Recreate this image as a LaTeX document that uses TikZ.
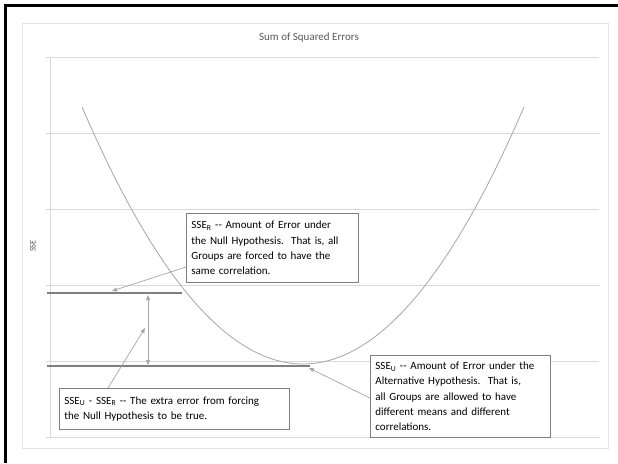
\documentclass[tikz,border=0pt]{standalone}
\usepackage{fontspec}
\setmainfont{Carlito}
\usetikzlibrary{arrows.meta,shadows}
\definecolor{gridc}{HTML}{D9D9D9}
\definecolor{curvec}{HTML}{A6A6A6}
\definecolor{linec}{HTML}{7F7F7F}
\definecolor{arrc}{HTML}{A6A6A6}
\definecolor{titlec}{HTML}{595959}
\tikzset{
  gridline/.style={draw=gridc, line width=0.9pt},
  sseline/.style={draw=linec, line width=1.3pt},
  callout/.style={draw=linec, fill=white, line width=0.8pt, anchor=north west, align=left,
     font=\fontsize{11}{15.2}\selectfont, inner xsep=5pt, inner ysep=3pt,
     drop shadow={shadow xshift=1pt, shadow yshift=-1pt, fill=gray!70, opacity=1}},
  ptr/.style={draw=arrc, line width=0.7pt, -{Triangle[length=5pt,width=4pt]}},
  dptr/.style={draw=arrc, line width=0.7pt, {Triangle[length=5pt,width=4pt]}-{Triangle[length=5pt,width=4pt]}},
}
\begin{document}
\begin{tikzpicture}[x=1pt,y=-1pt]
\useasboundingbox (0,0) rectangle (618,463);
\fill[white] (0,0) rectangle (618,463);
% outer border
\draw[black, line width=3pt] (5,463) -- (5,5) -- (618,5);
% chart area
\draw[draw=gridc!70, line width=0.8pt] (22,23) rectangle (608,448);
% title
\node[font=\fontsize{11}{12}\selectfont, text=titlec] (title) at (309,38) {Sum of Squared Errors};
% y label
\node[font=\fontsize{8.5}{10}\selectfont, text=titlec, rotate=90] (ylab) at (33,246) {SSE};
% grid
\foreach \y in {57,133,209,285,361} {
  \draw[gridline] (46,\y) -- (599,\y);
}
\draw[gridline] (46,437) -- (599,437);
\draw[gridline] (50,57) -- (50,437);
% curve
\draw[draw=curvec, line width=0.8pt] plot[domain=82:524, samples=120, smooth] (\x,{364-0.00526*(\x-303)*(\x-303)});
% SSE lines
\coordinate (rl) at (47,293);
\coordinate (rr) at (182,293);
\draw[sseline] (rl) -- (rr);
\coordinate (ul) at (47,366);
\coordinate (ur) at (310,366);
\draw[sseline] (ul) -- (ur);
% double arrow
\coordinate (da) at (148,295);
\coordinate (db) at (148,365);
\draw[dptr] (da) -- (db);
% boxes
\node[callout, minimum width=172pt, minimum height=69pt, text width=162pt] (boxR) at (186,213)
 {SSE\textsubscript{R} {-}{-} Amount of Error under\\the Null Hypothesis.\ \ That is, all\\Groups are forced to have the\\same correlation.};
\node[callout, minimum width=180pt, minimum height=82pt, text width=170pt] (boxU) at (370,355)
 {SSE\textsubscript{U} {-}{-} Amount of Error under the\\Alternative Hypothesis.\ \ That is,\\all Groups are allowed to have\\different means and different\\correlations.};
\node[callout, minimum width=230pt, minimum height=41pt, text width=220pt] (boxD) at (59,388)
 {SSE\textsubscript{U} - SSE\textsubscript{R} {-}{-} The extra error from forcing\\the Null Hypothesis to be true.};
% pointers
\coordinate (tR) at (112,291);
\coordinate (tU) at (309,368);
\coordinate (tD) at (145,328);
\coordinate (sR) at (186,267);
\coordinate (sU) at (370,398);
\coordinate (sD) at (108,388);
\draw[ptr] (sR) -- (tR);
\draw[ptr] (sU) -- (tU);
\draw[ptr] (sD) -- (tD);
\end{tikzpicture}
\end{document}
